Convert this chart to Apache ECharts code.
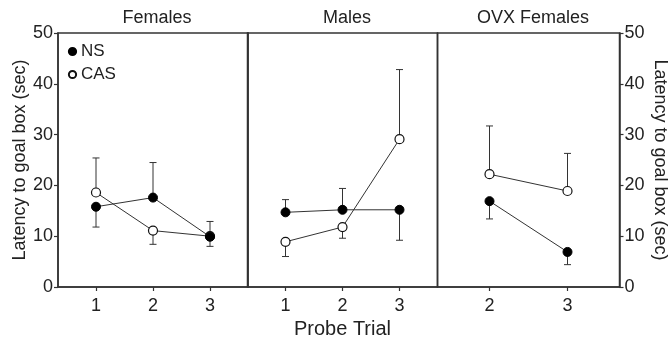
<!DOCTYPE html>
<html>
<head>
<meta charset="utf-8">
<script src="https://cdn.jsdelivr.net/npm/echarts@6/dist/echarts.min.js"></script>
<style>
  html, body { margin: 0; padding: 0; background: #fff; }
  #main { width: 670px; height: 337px; }
</style>
</head>
<body>
<div id="main"></div>
<script>
// probe trials per panel
var trialsAll = [1, 2, 3];
var trialsOvx = [2, 3];
var yTicks = [0, 10, 20, 30, 40, 50];

// means and error bar ends (one-sided bars, as in the figure)
var femNS = [15.8, 17.6, 9.9];
var femNSErr = [11.8, 24.5, 12.9];
var femCAS = [18.6, 11.1, 10.0];
var femCASErr = [25.4, 8.4, 8.0];

var maleNS = [14.7, 15.2, 15.2];
var maleNSErr = [17.2, 19.4, 9.2];
var maleCAS = [8.9, 11.8, 29.1];
var maleCASErr = [6.0, 9.6, 42.8];

var ovxNS = [16.9, 6.9];
var ovxNSErr = [13.4, 4.4];
var ovxCAS = [22.2, 18.9];
var ovxCASErr = [31.7, 26.3];

var FONT = 'Liberation Sans, Arial, sans-serif';
var INK = '#222';
var LINE = '#333';

function pts(xs, ys) {
  return xs.map(function (x, i) { return [x, ys[i]]; });
}
function errPts(xs, ys, ends) {
  return xs.map(function (x, i) { return [x, ys[i], ends[i]]; });
}

function lineSeries(name, idx, xs, ys, open) {
  return {
    name: name,
    type: 'line',
    xAxisIndex: idx,
    yAxisIndex: idx,
    data: pts(xs, ys),
    symbol: 'circle',
    symbolSize: 9,
    z: 5,
    lineStyle: { color: LINE, width: 1 },
    itemStyle: open
      ? { color: '#fff', borderColor: '#111', borderWidth: 1.2 }
      : { color: '#000', borderColor: '#000', borderWidth: 1 },
    emphasis: { disabled: true },
    animation: false
  };
}

function errSeries(idx, xs, ys, ends) {
  return {
    type: 'custom',
    xAxisIndex: idx,
    yAxisIndex: idx,
    z: 2,
    silent: true,
    animation: false,
    data: errPts(xs, ys, ends),
    renderItem: function (params, api) {
      var p0 = api.coord([api.value(0), api.value(1)]);
      var p1 = api.coord([api.value(0), api.value(2)]);
      var st = { stroke: LINE, lineWidth: 1 };
      return {
        type: 'group',
        children: [
          { type: 'line', shape: { x1: p0[0], y1: p0[1], x2: p1[0], y2: p1[1] }, style: st },
          { type: 'line', shape: { x1: p1[0] - 3.5, y1: p1[1], x2: p1[0] + 3.5, y2: p1[1] }, style: st }
        ]
      };
    }
  };
}

function xAxisFor(idx, min, ticks, withName) {
  return {
    type: 'value',
    gridIndex: idx,
    min: min,
    max: 11 / 3,
    splitLine: { show: false },
    axisLine: { show: true, lineStyle: { color: LINE, width: 1.5 } },
    axisTick: { show: true, length: 4, customValues: ticks, lineStyle: { color: LINE, width: 1.2 } },
    axisLabel: { customValues: ticks, margin: 10, fontSize: 18, color: INK, fontFamily: FONT },
    name: withName ? 'Probe Trial' : '',
    nameLocation: 'middle',
    nameGap: 29,
    nameTextStyle: { fontSize: 20, color: INK, fontFamily: FONT }
  };
}

function yAxisFor(idx, pos, showLabels) {
  return {
    type: 'value',
    gridIndex: idx,
    position: pos,
    min: 0,
    max: 50,
    interval: 10,
    splitLine: { show: false },
    axisLine: { show: true, lineStyle: { color: LINE, width: 1.5 } },
    axisTick: { show: showLabels, length: 4, inside: false, lineStyle: { color: LINE, width: 1.2 } },
    axisLabel: { show: showLabels, margin: 5, fontSize: 18, color: INK, fontFamily: FONT },
    name: showLabels ? 'Latency to goal box (sec)' : '',
    nameLocation: 'middle',
    nameGap: pos === 'right' ? 31 : 26,
    nameRotate: pos === 'right' ? -90 : 90,
    nameTextStyle: { fontSize: 18, color: INK, fontFamily: FONT }
  };
}

function gridFor(left, right) {
  return {
    left: left, right: right, top: 33, bottom: 50,
    outerBoundsMode: 'none',
    containLabel: false,
    show: true, borderColor: LINE, borderWidth: 1.5, backgroundColor: 'transparent'
  };
}

var chart = echarts.init(document.getElementById('main'), null, { renderer: 'canvas' });

var titleStyle = { fontSize: 18, fontWeight: 'normal', color: INK, fontFamily: FONT };

chart.setOption({
  backgroundColor: '#fff',
  animation: false,
  title: [
    { text: 'Females', left: 152, top: 4, textAlign: 'center', textStyle: titleStyle },
    { text: 'Males', left: 342, top: 4, textAlign: 'center', textStyle: titleStyle },
    { text: 'OVX Females', left: 528, top: 4, textAlign: 'center', textStyle: titleStyle }
  ],
  legend: {
    orient: 'vertical',
    left: 62,
    top: 38,
    itemWidth: 9,
    itemHeight: 9,
    itemGap: 6,
    selectedMode: false,
    textStyle: { fontSize: 17, color: INK, fontFamily: FONT, padding: [0, 0, 0, -1] },
    data: ['NS', 'CAS']
  },
  grid: [
    gridFor(58, 422),
    gridFor(247.5, 232.5),
    gridFor(437.5, 50.5)
  ],
  xAxis: [
    xAxisFor(0, 1 / 3, trialsAll, false),
    xAxisFor(1, 1 / 3, trialsAll, true),
    xAxisFor(2, 4 / 3, trialsOvx, false)
  ],
  yAxis: [
    yAxisFor(0, 'left', true),
    yAxisFor(1, 'left', false),
    yAxisFor(2, 'right', true)
  ],
  series: [
    errSeries(0, trialsAll, femNS, femNSErr),
    errSeries(0, trialsAll, femCAS, femCASErr),
    errSeries(1, trialsAll, maleNS, maleNSErr),
    errSeries(1, trialsAll, maleCAS, maleCASErr),
    errSeries(2, trialsOvx, ovxNS, ovxNSErr),
    errSeries(2, trialsOvx, ovxCAS, ovxCASErr),
    lineSeries('CAS', 0, trialsAll, femCAS, true),
    lineSeries('NS', 0, trialsAll, femNS, false),
    lineSeries('CAS', 1, trialsAll, maleCAS, true),
    lineSeries('NS', 1, trialsAll, maleNS, false),
    lineSeries('CAS', 2, trialsOvx, ovxCAS, true),
    lineSeries('NS', 2, trialsOvx, ovxNS, false)
  ]
});
</script>
</body>
</html>
